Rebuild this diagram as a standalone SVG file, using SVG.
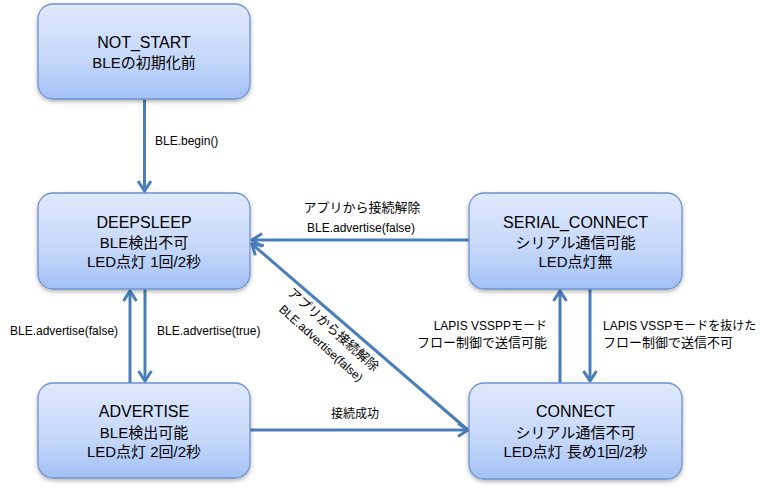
<svg xmlns="http://www.w3.org/2000/svg" width="771" height="487" viewBox="0 0 771 487">
<defs>
<linearGradient id="g" x1="0" y1="0" x2="0" y2="1">
<stop offset="0" stop-color="#dfe9fc"/>
<stop offset="0.6" stop-color="#c4d7f9"/>
<stop offset="1" stop-color="#a3c1f6"/>
</linearGradient>
<filter id="sh" x="-10%" y="-10%" width="120%" height="130%">
<feDropShadow dx="0" dy="2" stdDeviation="2" flood-color="#000" flood-opacity="0.3"/>
</filter>
<marker id="arr" viewBox="-13 -9 15 18" refX="0" refY="0" markerWidth="15" markerHeight="18" markerUnits="userSpaceOnUse" orient="auto">
<path d="M-10,-6.5 L0,0 L-10,6.5" fill="none" stroke="#4a7ebb" stroke-width="3"/>
</marker>
</defs>
<style>
.node{fill:url(#g);stroke:#6e93cf;stroke-width:1.3;filter:url(#sh)}
.t{font-family:"Liberation Sans","Noto Sans CJK JP",sans-serif;fill:#000;text-anchor:middle}
.title{font-size:16px}
.sub{font-size:15px}
.lbl{font-family:"Liberation Sans","Noto Sans CJK JP",sans-serif;fill:#000;font-size:12px}
.jp{font-size:13px}
.c{fill:none;stroke:#4a7ebb;stroke-width:3;marker-end:url(#arr)}
</style>
<rect width="771" height="487" fill="#fff"/>
<g id="connectors">
<line class="c" x1="144.5" y1="99" x2="144.5" y2="191"/>
<line class="c" x1="145" y1="289" x2="145" y2="381"/>
<line class="c" x1="130" y1="383" x2="130" y2="291"/>
<line class="c" x1="469" y1="240" x2="252" y2="240"/>
<line class="c" x1="250" y1="430" x2="468" y2="430"/>
<line class="c" x1="469" y1="431" x2="252" y2="244"/>
<line class="c" x1="560" y1="383" x2="560" y2="291"/>
<line class="c" x1="590" y1="289" x2="590" y2="381"/>
<text class="lbl" x="155" y="145">BLE.begin()</text>
<text class="lbl jp" x="362" y="212" text-anchor="middle">アプリから接続解除</text>
<text class="lbl" x="361" y="232" text-anchor="middle">BLE.advertise(false)</text>
<text class="lbl" x="10" y="335">BLE.advertise(false)</text>
<text class="lbl" x="157" y="335">BLE.advertise(true)</text>
<text class="lbl" x="547" y="330" text-anchor="end">LAPIS VSSPPモード</text>
<text class="lbl jp" x="547" y="347" text-anchor="end">フロー制御で送信可能</text>
<text class="lbl" x="603" y="330">LAPIS VSSPモードを抜けた</text>
<text class="lbl jp" x="603" y="347">フロー制御で送信不可</text>
<text class="lbl" x="355" y="418" text-anchor="middle" font-size="14">接続成功</text>
<g transform="translate(333,330) rotate(42)">
<text class="lbl jp" x="0" y="4" text-anchor="middle">アプリから接続解除</text>
<text class="lbl" x="0" y="22" text-anchor="middle">BLE.advertise(false)</text>
</g>
</g>
<g id="NOT_START">
<rect class="node" x="38" y="4" width="212" height="95" rx="15"/>
<text class="t title" x="144" y="48">NOT_START</text>
<text class="t sub" x="144" y="68">BLEの初期化前</text>
</g>
<g id="DEEPSLEEP">
<rect class="node" x="38" y="193" width="212" height="96" rx="15"/>
<text class="t title" x="144" y="228">DEEPSLEEP</text>
<text class="t sub" x="144" y="248">BLE検出不可</text>
<text class="t sub" x="144" y="267">LED点灯 1回/2秒</text>
</g>
<g id="SERIAL_CONNECT">
<rect class="node" x="469" y="193" width="213" height="96" rx="15"/>
<text class="t title" x="575.5" y="228">SERIAL_CONNECT</text>
<text class="t sub" x="575.5" y="248">シリアル通信可能</text>
<text class="t sub" x="575.5" y="267">LED点灯無</text>
</g>
<g id="ADVERTISE">
<rect class="node" x="38" y="383" width="212" height="95" rx="15"/>
<text class="t title" x="144" y="417">ADVERTISE</text>
<text class="t sub" x="144" y="438">BLE検出可能</text>
<text class="t sub" x="144" y="457">LED点灯 2回/2秒</text>
</g>
<g id="CONNECT">
<rect class="node" x="469" y="383" width="213" height="96" rx="15"/>
<text class="t title" x="575.5" y="417">CONNECT</text>
<text class="t sub" x="575.5" y="438">シリアル通信不可</text>
<text class="t sub" x="575.5" y="457">LED点灯 長め1回/2秒</text>
</g>
</svg>
